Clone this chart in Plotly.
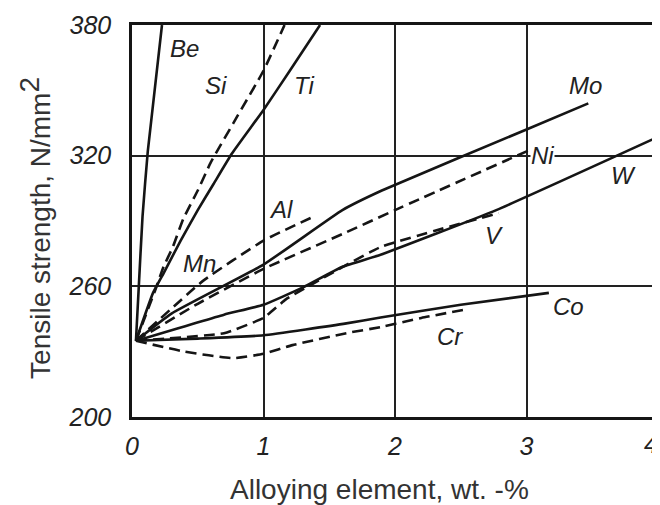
import plotly.graph_objects as go

# ---- data ----
be_x = [0.03, 0.05, 0.08, 0.12, 0.228]
be_y = [235, 258, 292, 322, 380]

si_x = [0.03, 0.175, 0.24, 0.31, 0.39, 0.5, 0.6, 0.8, 1.0, 1.16]
si_y = [235, 258, 269, 278, 291, 304, 317, 338, 359, 380]

ti_x = [0.03, 0.16, 0.24, 0.37, 0.5, 0.62, 0.76, 1.0, 1.2, 1.43]
ti_y = [235, 257, 266, 281, 295, 307, 321, 341, 359, 380]

mn_x = [0.03, 0.54, 1.0, 1.38]
mn_y = [235, 262.5, 281, 292]

mo_x = [0.03, 0.3, 1.0, 1.6, 1.9, 3.0, 3.47]
mo_y = [235, 247.5, 270, 295, 304, 332, 344]

ni_x = [0.03, 0.5, 1.0, 1.6, 2.0, 3.02]
ni_y = [235, 252, 268, 284, 295, 322.5]

w_x = [0.03, 0.7, 1.0, 1.3, 1.6, 1.89, 2.77, 4.0]
w_y = [235, 247, 251.5, 259.5, 269, 274.5, 295, 328.6]

v_x = [0.03, 0.7, 1.0, 1.17, 1.34, 1.89, 2.79]
v_y = [235, 238.5, 245.5, 254, 260, 278, 293.6]

co_x = [0.03, 0.5, 1.0, 1.63, 1.89, 2.5, 3.17]
co_y = [235, 236, 237.5, 243, 245.7, 251.5, 257]

cr_x = [0.03, 0.4, 0.77, 1.0, 1.22, 1.63, 1.89, 2.2, 2.55]
cr_y = [235, 230, 227, 229, 233, 238.5, 241.3, 245.5, 249.5]

series = [
    ("Be", be_x, be_y, "solid"),
    ("Si", si_x, si_y, "dash"),
    ("Ti", ti_x, ti_y, "solid"),
    ("Mn", mn_x, mn_y, "dash"),
    ("Mo", mo_x, mo_y, "solid"),
    ("Ni", ni_x, ni_y, "dash"),
    ("W", w_x, w_y, "solid"),
    ("V", v_x, v_y, "dash"),
    ("Co", co_x, co_y, "solid"),
    ("Cr", cr_x, cr_y, "dash"),
]

label_text = ["Be", "Si", "Ti", "Al", "Mn", "Mo", "Ni", "W", "V", "Co", "Cr"]
label_x = [0.40, 0.64, 1.31, 1.13, 0.51, 3.445, 3.125, 3.74, 2.75, 3.32, 2.42]
label_y = [369.0, 352.0, 352.0, 295.4, 270.6, 352.4, 320.2, 311.0, 283.4, 250.8, 237.0]

x_ticks = [0, 1, 2, 3, 4]
y_ticks = [200, 260, 320, 380]

x_title = "Alloying element, wt. -%"
y_title = 'Tensile strength, N/mm<sup><span style="font-size:28px">2</span></sup>'

# ---- figure ----
ink = "#151515"
fig = go.Figure()
for name, xs, ys, dash in series:
    fig.add_trace(go.Scatter(
        x=xs, y=ys, mode="lines", name=name, showlegend=False,
        line=dict(color=ink, width=2.6, shape="spline", smoothing=0.4,
                  dash=("11px,6px" if dash == "dash" else "solid")),
        hoverinfo="skip",
    ))

for t, lx, ly in zip(label_text, label_x, label_y):
    fig.add_annotation(
        x=lx, y=ly, text=t, showarrow=False, xanchor="center", yanchor="middle",
        font=dict(family="Liberation Sans", size=24, color="#222", style="italic"),
        bgcolor="white" if t == "Ni" else "rgba(0,0,0,0)", borderpad=0,
    )

tickfont = dict(family="Liberation Sans", size=25, color="#222", style="italic")

# last x tick label sits at the right edge; drawn as text nudged inward so it stays visible
fig.add_annotation(xref="x", yref="paper", x=x_ticks[-1], y=-0.0689, xshift=-7,
                   text=str(x_ticks[-1]), showarrow=False,
                   xanchor="center", yanchor="middle", font=tickfont)

title_font = dict(family="Liberation Sans", size=28, color="#333")
fig.add_annotation(xref="paper", yref="paper", x=0.4696, y=-0.184,
                   text=x_title, showarrow=False, xanchor="center", yanchor="middle",
                   font=title_font)
fig.add_annotation(xref="paper", yref="paper", x=-0.184, y=0.483,
                   text=y_title, showarrow=False, xanchor="center", yanchor="middle",
                   textangle=-90, font=title_font)

axis_common = dict(
    showline=True, mirror=True, linecolor=ink, linewidth=2.5,
    zeroline=False, ticks="", automargin=False, tickfont=tickfont,
    showgrid=True, gridcolor="#222", gridwidth=1.5,
)

# the page body adds an 8 px offset, so the figure is 8 px smaller than the window
fig.update_layout(
    width=652, height=497,
    margin=dict(l=124, r=2, t=17, b=88),
    paper_bgcolor="white", plot_bgcolor="white",
    xaxis=dict(range=[0, 4], tickvals=x_ticks,
               ticktext=[str(v) for v in x_ticks[:-1]] + [""],
               ticklabelstandoff=5, **axis_common),
    yaxis=dict(range=[200, 380], tickvals=y_ticks, ticktext=[str(v) for v in y_ticks],
               ticklabelstandoff=13, **axis_common),
)

fig.write_html("out.html")
